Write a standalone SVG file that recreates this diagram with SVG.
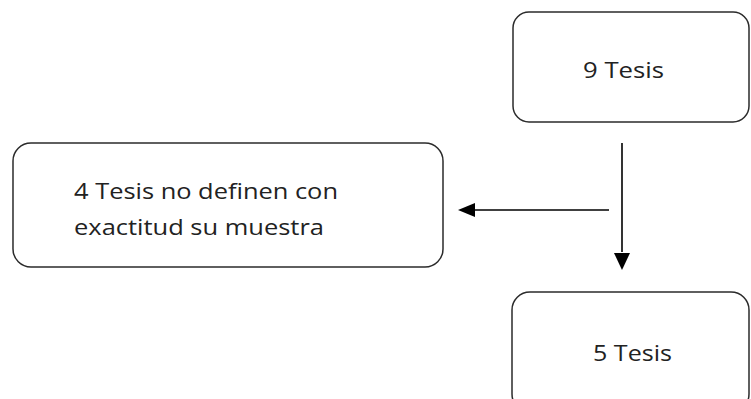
<svg xmlns="http://www.w3.org/2000/svg" width="751" height="399" viewBox="0 0 751 399">
<style>
.box{fill:#fff;stroke:#2b2b2b;stroke-width:1.5}
.t{font-family:"Open Sans","Liberation Sans",sans-serif;font-size:22px;fill:#222}
.c{stroke:#000;stroke-width:1.6;fill:none}
</style>
<rect width="751" height="399" fill="#fff"/>
<g id="node-9tesis">
<rect class="box" x="513" y="12" width="236" height="110" rx="16"/>
<text class="t" x="583" y="78" textLength="81" lengthAdjust="spacingAndGlyphs">9 Tesis</text>
</g>
<g id="node-4tesis">
<rect class="box" x="13" y="143" width="430" height="124" rx="18"/>
<text class="t" x="74" y="199" textLength="264" lengthAdjust="spacingAndGlyphs">4 Tesis no definen con</text>
<text class="t" x="74" y="235" textLength="250" lengthAdjust="spacingAndGlyphs">exactitud su muestra</text>
</g>
<g id="node-5tesis">
<rect class="box" x="512" y="292" width="237" height="120" rx="18"/>
<text class="t" x="593" y="361" textLength="79" lengthAdjust="spacingAndGlyphs">5 Tesis</text>
</g>
<g id="connectors">
<line class="c" x1="622" y1="143" x2="622" y2="252"/>
<path d="M614,253 L630,253 L622,270 Z" fill="#000"/>
<line class="c" x1="609" y1="210" x2="474" y2="210"/>
<path d="M475,203 L475,217 L458,210 Z" fill="#000"/>
</g>
</svg>
